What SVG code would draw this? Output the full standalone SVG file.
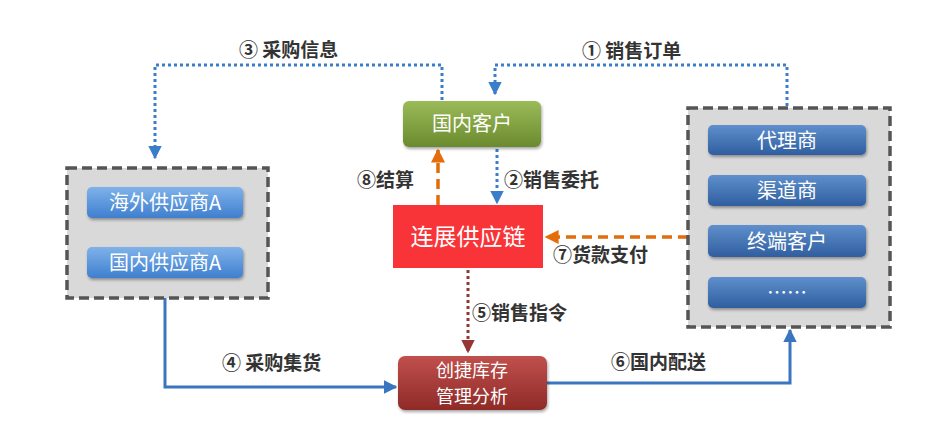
<svg xmlns="http://www.w3.org/2000/svg" width="942" height="434" viewBox="0 0 942 434">
<defs>
<linearGradient id="gGreen" x1="0" y1="0" x2="0" y2="1"><stop offset="0" stop-color="#9bbb59"/><stop offset="1" stop-color="#6b8a2e"/></linearGradient>
<linearGradient id="gLBlue" x1="0" y1="0" x2="0" y2="1"><stop offset="0" stop-color="#7fb2ea"/><stop offset="1" stop-color="#3f7fcf"/></linearGradient>
<linearGradient id="gDBlue" x1="0" y1="0" x2="0" y2="1"><stop offset="0" stop-color="#5f8fcc"/><stop offset="1" stop-color="#2f5e9f"/></linearGradient>
<linearGradient id="gRed" x1="0" y1="0" x2="0" y2="1"><stop offset="0" stop-color="#c0504d"/><stop offset="1" stop-color="#8f2a27"/></linearGradient>
<marker id="aBlue" viewBox="0 0 10 10" refX="9" refY="5" markerWidth="4.5" markerHeight="4.5" orient="auto"><path d="M0,0L10,5L0,10z" fill="#3a7dc9"/></marker>
<marker id="aOrange" viewBox="0 0 10 10" refX="9" refY="5" markerWidth="4" markerHeight="4" orient="auto"><path d="M0,0L10,5L0,10z" fill="#e46c0a"/></marker>
<marker id="aDred" viewBox="0 0 10 10" refX="9" refY="5" markerWidth="4.5" markerHeight="4.5" orient="auto"><path d="M0,0L10,5L0,10z" fill="#953735"/></marker>
<marker id="aSolid" viewBox="0 0 10 10" refX="9" refY="5" markerWidth="4.5" markerHeight="4.5" orient="auto"><path d="M0,0L10,5L0,10z" fill="#3a75bf"/></marker>
<filter id="sh" x="-10%" y="-20%" width="130%" height="150%"><feDropShadow dx="1" dy="2" stdDeviation="1.5" flood-color="#000" flood-opacity="0.35"/></filter>
</defs>
<style>
.lbl{font-family:"Noto Sans CJK SC","Noto Sans",sans-serif;font-size:19px;font-weight:bold;fill:#333}
.btxt{font-family:"Noto Sans CJK SC","Noto Sans",sans-serif;font-size:20px;fill:#fff}
.btxt2{font-family:"Noto Sans CJK SC","Noto Sans",sans-serif;font-size:18px;fill:#fff}
.grp{fill:#d9d9d9;stroke:#555;stroke-width:3.5;stroke-dasharray:10 5}
.dotb{fill:none;stroke:#3a7dc9;stroke-width:3;stroke-dasharray:3 3}
.dasho{fill:none;stroke:#e46c0a;stroke-width:3.5;stroke-dasharray:10 6}
.dotr{fill:none;stroke:#953735;stroke-width:3;stroke-dasharray:3 3}
.solidb{fill:none;stroke:#3a75bf;stroke-width:3}
</style>
<rect width="942" height="434" fill="#fff"/>
<g id="connectors">
<polyline class="dotb" points="442,100 442,65 155,65 155,158" marker-end="url(#aBlue)"/>
<polyline class="dotb" points="787,106 787,65 495,65 495,94" marker-end="url(#aBlue)"/>
<line class="dasho" x1="438" y1="205" x2="438" y2="150" marker-end="url(#aOrange)"/>
<line class="dotb" x1="497" y1="149" x2="497" y2="203" marker-end="url(#aBlue)"/>
<line class="dasho" x1="688" y1="237" x2="546" y2="237" marker-end="url(#aOrange)"/>
<line class="dotr" x1="468" y1="270" x2="468" y2="352" marker-end="url(#aDred)"/>
<polyline class="solidb" points="165,298 165,387 396,387" marker-end="url(#aSolid)"/>
<polyline class="solidb" points="547,383 790,383 790,330" marker-end="url(#aSolid)"/>
<text class="lbl" x="239" y="57">③ 采购信息</text>
<text class="lbl" x="582" y="58">① 销售订单</text>
<text class="lbl" x="357" y="187">⑧结算</text>
<text class="lbl" x="504" y="187">②销售委托</text>
<text class="lbl" x="553" y="262">⑦货款支付</text>
<text class="lbl" x="472" y="320">⑤销售指令</text>
<text class="lbl" x="222" y="370">④ 采购集货</text>
<text class="lbl" x="611" y="369">⑥国内配送</text>
</g>
<g id="guonei-kehu"><rect x="403" y="101" width="138" height="46" rx="6" fill="url(#gGreen)" filter="url(#sh)"/><text class="btxt" x="472" y="131" text-anchor="middle">国内客户</text></g>
<g id="supplier-group"><rect class="grp" x="67" y="168" width="201" height="130"/></g>
<g id="haiwai"><rect x="87" y="187" width="156" height="31" rx="5" fill="url(#gLBlue)" filter="url(#sh)"/><text class="btxt" x="165" y="210" text-anchor="middle">海外供应商A</text></g>
<g id="guonei-gys"><rect x="87" y="247" width="156" height="31" rx="5" fill="url(#gLBlue)" filter="url(#sh)"/><text class="btxt" x="165" y="270" text-anchor="middle">国内供应商A</text></g>
<g id="customer-group"><rect class="grp" x="688" y="108" width="202" height="219"/></g>
<g id="daili"><rect x="708" y="125" width="158" height="30" rx="5" fill="url(#gDBlue)" filter="url(#sh)"/><text class="btxt" x="787" y="148" text-anchor="middle">代理商</text></g>
<g id="qudao"><rect x="708" y="175" width="158" height="31" rx="5" fill="url(#gDBlue)" filter="url(#sh)"/><text class="btxt" x="787" y="198" text-anchor="middle">渠道商</text></g>
<g id="zhongduan"><rect x="708" y="225" width="158" height="32" rx="5" fill="url(#gDBlue)" filter="url(#sh)"/><text class="btxt" x="787" y="249" text-anchor="middle">终端客户</text></g>
<g id="more"><rect x="708" y="277" width="158" height="31" rx="5" fill="url(#gDBlue)" filter="url(#sh)"/><text class="btxt" x="787" y="300" text-anchor="middle">……</text></g>
<g id="lianzhan"><rect x="393" y="205" width="150" height="63" fill="#f83438"/><text x="468" y="245" text-anchor="middle" font-family="Noto Sans CJK SC, sans-serif" font-size="23" fill="#fff">连展供应链</text></g>
<g id="chuangjie"><rect x="398" y="356" width="149" height="54" rx="7" fill="url(#gRed)" filter="url(#sh)"/><text class="btxt2" x="472" y="377" text-anchor="middle">创捷库存</text><text class="btxt2" x="472" y="403" text-anchor="middle">管理分析</text></g>
</svg>
